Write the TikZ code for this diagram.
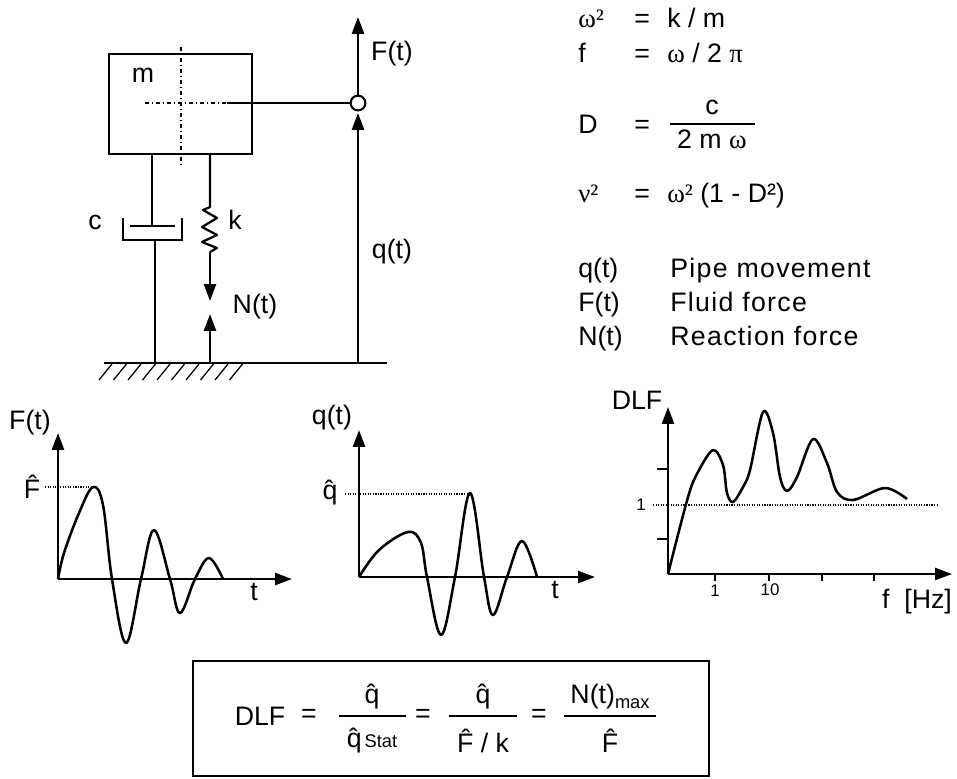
\documentclass[tikz,border=0pt]{standalone}
\usepackage{fontspec}
\setmainfont{Liberation Sans}
\newfontfamily\greekfont{Liberation Serif}
\usetikzlibrary{calc}
\usetikzlibrary{arrows.meta}

\tikzset{
  lbl/.style={inner sep=0pt,font=\fontsize{19}{22}\selectfont},
  lft/.style={lbl,anchor=base west},
  wide/.style={lft,font=\fontsize{19}{22}\addfontfeature{LetterSpace=5}\selectfont},
  small/.style={inner sep=0pt,font=\fontsize{12}{14}\selectfont},
  bar/.style={line width=1.9pt},
  curve/.style={line width=1.8pt,line join=round},
  pull/.style={line width=1.7pt,-{Triangle[length=12pt,width=8.5pt]}},
  thin dot/.style={line width=.8pt,densely dotted},
  axis mark/.style={line width=.8pt},
}
\newcommand{\gr}[1]{{\greekfont #1}}

\begin{document}
\begin{tikzpicture}[x=.025cm,y=-.025cm]
\useasboundingbox (0,0) rectangle (957,778);

% mass
\coordinate (m_st) at (109,54);
\coordinate (m_e) at (252,154);
\draw[bar] (m_st) rectangle (m_e);
\draw[line width=.8pt,dash dot] (181,47)--(181,167);
\draw[line width=.8pt,dash dot] (145,103)--(227,103);
\node[lbl] (m_lab) at (143,75) {m};

% ground
\coordinate (g_st) at (104,363);
\coordinate (g_e) at (387,363);
\draw[bar] (g_st)--(g_e);
\foreach \x in {112,126.5,...,243}
  \draw[line width=.9pt] (\x,364)--+(-13,16);

% force point
\node[circle,draw,line width=1.5pt,inner sep=0pt,minimum size=10.5pt] (pt) at (358,103) {};
\coordinate (F_e) at (358,17);
\coordinate (q_st) at (358,363);
\coordinate (q_e) at (358,113);
\draw[line width=.8pt] (227,103)--(pt);
\draw[pull] (pt)--(F_e);
\draw[pull] (q_st)--(q_e);
\node[lbl] (F_lab) at (392,54) {F(t)};
\node[lbl] (q_lab) at (392,252) {q(t)};

% damper
\coordinate (d_top) at (152,154);
\coordinate (d_mid) at (152,226);
\coordinate (d_low) at (155,240);
\coordinate (d_bot) at (155,363);
\draw[bar] (d_top)--(d_mid);
\draw[bar] (130,226)--(175,226);
\draw[line width=1.6pt] (123,218)--(123,240)--(182,240)--(182,218);
\draw[line width=1.6pt] (d_low)--(d_bot);
\node[lbl] (c_lab) at (95,222) {c};

% spring
\coordinate (s_top) at (210,154);
\coordinate (s_low) at (210,252);
\coordinate (n_e) at (210,301);
\coordinate (n_st) at (210,363);
\coordinate (n2_e) at (210,314);
\draw[line width=1.6pt,line join=round] (s_top)--(210,207)--(203,210)--(217,218)--(202,227)--(217,235)--(202,242)--(217,248)--(s_low);
\draw[pull] (s_low)--(n_e);
\draw[pull] (n_st)--(n2_e);
\node[lbl] (k_lab) at (235,220) {k};
\node[lbl] (N_lab) at (255,307) {N(t)};

% relations
\node[lft] (w_lab) at (578,27) {\gr{ω²}};
\node[lft] (w_eq) at (634,27) {=};
\node[lft] (w_val) at (667,27) {k / m};
\node[lft] (f_lab) at (578,62) {f};
\node[lft] (f_eq) at (634,62) {=};
\node[lft] (f_val) at (667,62) {\gr{ω} / 2 \gr{π}};
\node[lft] (D_lab) at (578,133) {D};
\node[lft] (D_eq) at (634,133) {=};
\node[lbl] (D_num) at (712,107) {c};
\node[lbl] (D_den) at (712,139) {2 m \gr{ω}};
\draw[line width=1.2pt] (670,124)--(755,124);
\node[lft] (v_lab) at (578,202) {\gr{ν²}};
\node[lft] (v_eq) at (634,202) {=};
\node[lft] (v_val) at (667,202) {\gr{ω²} (1 - D²)};

% legend
\node[lft] (l1) at (578,277) {q(t)};
\node[wide] (l1t) at (670,277) {Pipe movement};
\node[lft] (l2) at (578,311) {F(t)};
\node[wide] (l2t) at (670,311) {Fluid force};
\node[lft] (l3) at (578,345) {N(t)};
\node[wide] (l3t) at (670,345) {Reaction force};

% force plot
\coordinate (p1) at (58,579);
\draw[pull] (p1)--(58,433);
\draw[pull] (p1)--(292,579);
\draw[thin dot] (45,487)--(93,487);
\draw[curve] plot[smooth,tension=.6] coordinates {(58,579) (64,553) (79,513) (93,487) (103,505) (112,579) (126,643) (141,579) (154,530) (170,579) (180,613) (195,579) (209,558) (223,579)};
\node[lbl] (p1_y) at (30,423) {F(t)};
\node[lbl] (p1_hat) at (32,487) {\^F};
\node[lbl] (p1_x) at (254,592) {t};

% displacement plot
\coordinate (p2) at (359,577);
\draw[pull] (p2)--(359,430);
\draw[pull] (p2)--(595,577);
\draw[thin dot] (345,494)--(470,494);
\draw[curve] plot[smooth,tension=.6] coordinates {(359,577) (379,550) (408,532) (421,543) (427,577) (441,635) (455,577) (470,493) (484,577) (493,615) (507,577) (522,541) (537,577)};
\node[lbl] (p2_y) at (332,418) {q(t)};
\node[lbl] (p2_hat) at (330,493) {\^q};
\node[lbl] (p2_x) at (555,590) {t};

% DLF plot
\coordinate (p3) at (668,574);
\draw[pull] (p3)--(668,407);
\draw[pull] (p3)--(952,574);
\draw[thin dot] (653,505)--(937,505);
\draw[axis mark] (657,469)--(668,469);
\draw[axis mark] (657,539)--(668,539);
\foreach \x in {715,769,822,874}
  \draw[axis mark] (\x,574)--(\x,581);
\draw[curve] plot[smooth,tension=.55] coordinates {(668,574) (688,497) (698,472) (713,450) (723,465) (727,493) (733,502) (743,487) (750,470) (763,412) (773,433) (780,477) (787,491) (797,477) (813,439) (827,463) (837,492) (853,500) (885,488) (907,499)};
\node[lbl] (p3_y) at (637,400) {DLF};
\node[small] (p3_one) at (641,505) {1};
\node[small] (p3_t1) at (715,591) {1};
\node[small] (p3_t2) at (770,590) {10};
\node[lbl] (p3_x) at (917,602) {f~ [Hz]};

% formula
\coordinate (box_st) at (193,661);
\coordinate (box_e) at (709,776);
\draw[line width=1.2pt] (box_st) rectangle (box_e);
\node[lbl] (dlf) at (260,716) {DLF};
\node[lbl] (eq1) at (309,716) {=};
\node[lbl] (fr1_n) at (372,697) {\^q};
\draw[line width=1.2pt] (339,716)--(406,716);
\node[lbl] (fr1_d) at (372,741) {\^q{\fontsize{13}{15}\selectfont\,Stat}};
\node[lbl] (eq2) at (423,716) {=};
\node[lbl] (fr2_n) at (483,697) {\^q};
\draw[line width=1.2pt] (449,716)--(517,716);
\node[lbl] (fr2_d) at (483,741) {\^F / k};
\node[lbl] (eq3) at (539,716) {=};
\node[lbl] (fr3_n) at (610,697) {N(t)\raisebox{-3pt}{\fontsize{13}{15}\selectfont max}};
\draw[line width=1.2pt] (564,716)--(656,716);
\node[lbl] (fr3_d) at (610,741) {\^F};
\end{tikzpicture}
\end{document}
